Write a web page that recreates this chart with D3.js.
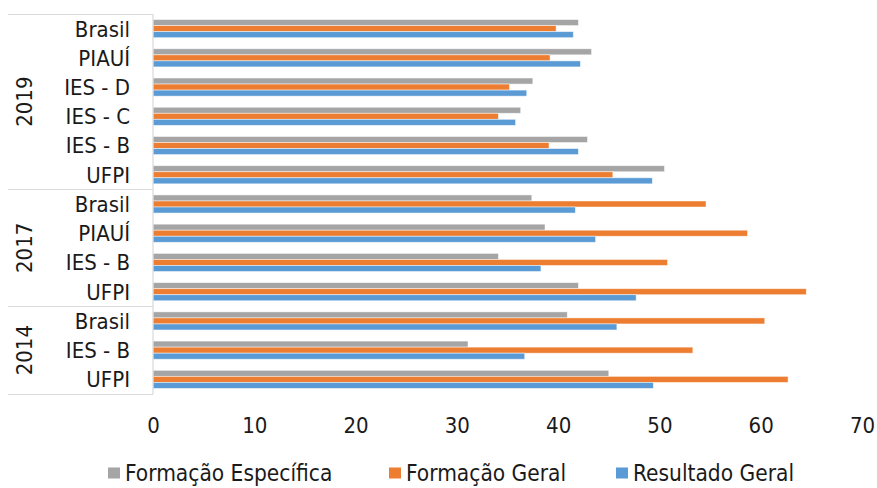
<!DOCTYPE html>
<html>
<head>
<meta charset="utf-8">
<script src="https://cdn.jsdelivr.net/npm/d3@7"></script>
<style>
  html, body { margin: 0; padding: 0; background: #fff; }
  svg { display: block; font-family: "DejaVu Sans Condensed", "DejaVu Sans", sans-serif; font-stretch: condensed; }
</style>
</head>
<body>
<svg id="chart" width="877" height="488"></svg>
<script>
// Institutions per exam year, top to bottom
const years = ["2019", "2017", "2014"];
const institutions2019 = ["Brasil", "PIAUÍ", "IES - D", "IES - C", "IES - B", "UFPI"];
const institutions2017 = ["Brasil", "PIAUÍ", "IES - B", "UFPI"];
const institutions2014 = ["Brasil", "IES - B", "UFPI"];

const seriesNames = ["Formação Específica", "Formação Geral", "Resultado Geral"];
const seriesColors = ["#A5A5A5", "#ED7D31", "#5B9BD5"];

// Scores, in the same order as the institution lists
const formacaoEspecifica = [42.0, 43.3, 37.5, 36.3, 42.9, 50.5, 37.4, 38.7, 34.1, 42.0, 40.9, 31.1, 45.0];
const formacaoGeral      = [39.8, 39.2, 35.2, 34.1, 39.1, 45.4, 54.6, 58.7, 50.8, 64.5, 60.4, 53.3, 62.7];
const resultadoGeral     = [41.5, 42.2, 36.9, 35.8, 42.0, 49.3, 41.7, 43.7, 38.3, 47.7, 45.8, 36.7, 49.4];

const xTicks = [0, 10, 20, 30, 40, 50, 60, 70];

const groups = [
  { year: years[0], names: institutions2019 },
  { year: years[1], names: institutions2017 },
  { year: years[2], names: institutions2014 }
];

const rows = [];
groups.forEach(g => g.names.forEach(n => rows.push({ year: g.year, name: n, key: g.year + "|" + n })));
rows.forEach((r, i) => {
  r.values = [formacaoEspecifica[i], formacaoGeral[i], resultadoGeral[i]];
});

const svg = d3.select("#chart");
const plotTop = 14, plotBottom = 394, plotLeft = 153, plotRight = 862, frameLeft = 8;
const textColor = "#1a1a1a";

const x = d3.scaleLinear().domain([0, 70]).range([plotLeft, plotRight]);
const y = d3.scaleBand().domain(rows.map(r => r.key)).range([plotTop, plotBottom])
  .paddingInner(0.38).paddingOuter(0.19);
const ySub = d3.scaleBand().domain(d3.range(3)).range([0, y.bandwidth()]);

// Bars: one row per institution, three series stacked top to bottom
const rowG = svg.append("g").selectAll("g").data(rows).join("g")
  .attr("transform", d => `translate(0,${y(d.key)})`);
rowG.selectAll("rect").data(d => d.values.map((v, i) => ({ v, i }))).join("rect")
  .attr("x", x(0))
  .attr("y", d => ySub(d.i))
  .attr("width", d => x(d.v) - x(0))
  .attr("height", ySub.bandwidth())
  .attr("fill", d => seriesColors[d.i])
  .attr("stroke", "#ffffff")
  .attr("stroke-opacity", 0.6)
  .attr("stroke-width", 0.8);

// Category axis frame: vertical axis line plus year-group separators
const frame = svg.append("g").attr("stroke", "#d9d9d9").attr("stroke-width", 1.2).attr("fill", "none");
frame.append("line").attr("x1", plotLeft).attr("x2", plotLeft).attr("y1", plotTop).attr("y2", plotBottom);
const sepY = [plotTop];
let idx = 0;
groups.forEach(g => {
  idx += g.names.length;
  sepY.push(y(rows[idx - 1].key) + y.bandwidth() + (y.step() - y.bandwidth()) / 2);
});
sepY[sepY.length - 1] = plotBottom;
frame.selectAll("line.sep").data(sepY).join("line").attr("class", "sep")
  .attr("x1", frameLeft).attr("x2", plotLeft)
  .attr("y1", d => Math.round(d) + 0.5).attr("y2", d => Math.round(d) + 0.5);

// Institution labels
svg.append("g").selectAll("text").data(rows).join("text")
  .attr("x", 130)
  .attr("y", d => y(d.key) + y.bandwidth() / 2)
  .attr("dy", "0.36em")
  .attr("text-anchor", "end")
  .attr("font-size", 22)
  .attr("fill", textColor)
  .text(d => d.name);

// Year labels, rotated and centred on each group
svg.append("g").selectAll("text").data(groups).join("text")
  .attr("transform", (g, i) => `translate(24,${(sepY[i] + sepY[i + 1]) / 2}) rotate(-90)`)
  .attr("text-anchor", "middle")
  .attr("dy", "0.36em")
  .attr("font-size", 22)
  .attr("fill", textColor)
  .text(g => g.year);

// Value axis labels (no axis line or tick marks)
const xAxis = d3.axisBottom(x).tickValues(xTicks).tickSize(0).tickPadding(0);
const ax = svg.append("g").attr("transform", "translate(0,425)").call(xAxis);
ax.select(".domain").remove();
ax.selectAll("text").attr("font-size", 22).attr("fill", textColor).attr("dy", "0.36em")
  .style("font-family", "'DejaVu Sans Condensed', 'DejaVu Sans', sans-serif");

// Legend
const legendX = [108, 389, 616];
const leg = svg.append("g").selectAll("g").data(seriesNames).join("g")
  .attr("transform", (d, i) => `translate(${legendX[i]},473)`);
leg.append("rect").attr("x", 0).attr("y", -5.5).attr("width", 12).attr("height", 11)
  .attr("fill", (d, i) => seriesColors[i]);
leg.append("text").attr("x", 17).attr("dy", "0.36em").attr("font-size", 22.5)
  .attr("fill", textColor).text(d => d);
</script>
</body>
</html>
